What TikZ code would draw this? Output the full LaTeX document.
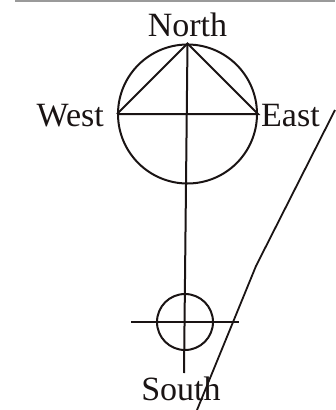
\documentclass[tikz,border=0pt]{standalone}
\usepackage{fontspec}
\setmainfont{Liberation Serif}
\usetikzlibrary{positioning}
\definecolor{Ink}{HTML}{1A1414}
\definecolor{Edge}{HTML}{9A9A9A}

\begin{document}
\begin{tikzpicture}[x=1pt,y=-1pt,
    wire/.style={Ink,line width=2pt},
    lbl/.style={font=\fontsize{34}{40}\selectfont,Ink,inner sep=0pt}]
  \useasboundingbox (0,0) rectangle (335,410);
  \draw[Edge,line width=1.4pt] (15,1) -- (335,1);
  % sky circle and its cardinal points
  \node[wire,draw,circle,minimum size=139pt,inner sep=0pt] (sky) at (187.5,114) {};
  \node[wire,draw,circle,minimum size=56pt,inner sep=0pt] (sun) at (185,322) {};
  \node[lbl,anchor=base] (north) at ([yshift=7pt]sky.north) {North};
  \node[lbl,anchor=base east] (west) at ([xshift=-13pt,yshift=-12pt]sky.west) {West};
  \node[lbl,anchor=base west] (east) at ([xshift=3pt,yshift=-12pt]sky.east) {East};
  \node[lbl,anchor=base] (south) at (181,400) {South};
  \coordinate (foot) at (184,373);
  \draw[wire] (sky.west) -- (sky.north) -- (sky.east) -- (sky.west);
  \draw[wire] (sky.north) -- (foot);
  \draw[wire] ([xshift=-25pt]sun.west) -- ([xshift=25pt]sun.east);
  % horizon line on the right
  \coordinate (h1) at (335,110);
  \coordinate (h2) at (256,266);
  \coordinate (h3) at (197,410);
  \draw[wire,line width=1.8pt] (h1) -- (h2) -- (h3);
\end{tikzpicture}
\end{document}
